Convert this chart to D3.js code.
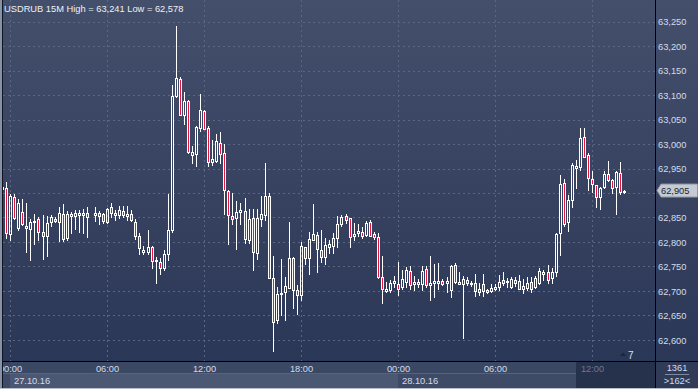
<!DOCTYPE html>
<html>
<head>
<meta charset="utf-8">
<script src="https://cdn.jsdelivr.net/npm/d3@7"></script>
<style>
body { margin: 0; background: #2d3955; }
svg { display: block; }
text { font-family: "Liberation Sans", Arial, sans-serif; }
</style>
</head>
<body>
<svg id="chart" width="698" height="389"></svg>
<script>
const symbol = 'USDRUB';
const period = '15M';
const firstBar = new Date(2016, 9, 26, 23, 30);
const barMinutes = 15;
const barsTotal = '1361';
const barsShift = '>162<';
const shiftMark = '7';

// one entry per 15 minute bar, null = no bar
const open = [
	62.909, 62.911, 62.817, 62.892, 62.829, 62.861, 62.833, 62.827, 62.840, 62.847,
	62.820, 62.813, 62.841, 62.847, 62.840, 62.857, 62.808, 62.853, 62.854, 62.856,
	62.856, 62.859, null, 62.856, 62.859, 62.857, 62.841, 62.872, 62.860, 62.855,
	62.864, 62.854, 62.858, 62.841, 62.813, 62.780, 62.779, 62.789, 62.764, 62.760,
	62.746, 62.775, 62.824, 63.097, 63.132, 63.060, 63.088, 62.978, 62.980, 63.033,
	63.067, 63.032, 62.964, 62.966, 63.003, 62.981, 62.905, 62.854, 62.848, 62.861,
	62.863, 62.804, 62.848, 62.778, 62.846, 62.855, 62.894, 62.726, 62.640, 62.693,
	62.697, 62.707, 62.767, 62.702, 62.692, 62.789, 62.767, 62.805, 62.814, 62.784,
	62.769, 62.790, 62.792, 62.808, 62.837, 62.853, 62.848, 62.812, 62.818, 62.820,
	62.814, 62.841, 62.816, 62.810, 62.729, 62.700, 62.702, 62.716, 62.715, 62.709,
	62.719, 62.740, 62.714, 62.715, 62.715, 62.745, 62.712, 62.717, 62.717, 62.721,
	62.716, 62.701, 62.754, 62.715, 62.714, 62.722, 62.717, 62.717, 62.697, 62.715,
	62.702, 62.700, 62.705, 62.708, 62.723, 62.718, 62.708, 62.723, 62.721, 62.704,
	62.707, 62.719, 62.708, 62.717, 62.735, 62.739, 62.727, 62.738, 62.818, 62.920,
	62.840, 62.885, 62.952, 62.954, 63.014, 62.978, 62.928, 62.917, 62.891, 62.912,
	62.939, 62.927, 62.912, 62.941, 62.902
];
const high = [
	62.918, 62.922, 62.897, 62.897, 62.888, 62.888, 62.880, 62.846, 62.857, 62.851,
	62.856, 62.854, 62.855, 62.850, 62.871, 62.877, 62.863, 62.862, 62.866, 62.866,
	62.868, 62.871, null, 62.871, 62.864, 62.859, 62.869, 62.880, 62.866, 62.874,
	62.874, 62.873, 62.865, 62.847, 62.818, 62.791, 62.824, 62.791, 62.770, 62.767,
	62.784, 62.897, 63.120, 63.241, 63.137, 63.107, 63.090, 62.996, 63.037, 63.102,
	63.069, 63.037, 63.008, 63.020, 63.024, 63.001, 62.907, 62.899, 62.884, 62.880,
	62.889, 62.867, 62.867, 62.867, 62.893, 62.961, 62.901, 62.771, 62.709, 62.766,
	62.729, 62.841, 62.770, 62.713, 62.799, 62.789, 62.820, 62.878, 62.820, 62.824,
	62.809, 62.805, 62.819, 62.853, 62.856, 62.857, 62.848, 62.839, 62.837, 62.831,
	62.843, 62.845, 62.820, 62.818, 62.771, 62.719, 62.723, 62.730, 62.759, 62.742,
	62.749, 62.750, 62.730, 62.724, 62.750, 62.750, 62.772, 62.755, 62.757, 62.724,
	62.728, 62.753, 62.757, 62.739, 62.731, 62.729, 62.720, 62.735, 62.716, 62.735,
	62.704, 62.714, 62.715, 62.733, 62.738, 62.726, 62.728, 62.729, 62.733, 62.724,
	62.728, 62.728, 62.730, 62.747, 62.743, 62.753, 62.747, 62.819, 62.936, 62.928,
	62.896, 62.961, 62.968, 63.032, 63.032, 62.981, 62.944, 62.917, 62.912, 62.944,
	62.965, 62.928, 62.944, 62.963, 62.906
];
const low = [
	62.905, 62.808, 62.805, 62.846, 62.825, 62.834, 62.779, 62.763, 62.796, 62.805,
	62.766, 62.771, 62.832, 62.840, 62.801, 62.801, 62.805, 62.818, 62.827, 62.821,
	62.818, 62.810, null, 62.842, 62.837, 62.839, 62.839, 62.851, 62.844, 62.849,
	62.852, 62.844, 62.842, 62.806, 62.776, 62.776, 62.776, 62.746, 62.717, 62.734,
	62.742, 62.763, 62.820, 63.095, 63.060, 63.040, 62.982, 62.962, 62.956, 63.027,
	63.030, 62.956, 62.958, 62.964, 62.962, 62.858, 62.795, 62.837, 62.786, 62.837,
	62.798, 62.798, 62.743, 62.766, 62.833, 62.844, 62.726, 62.578, 62.634, 62.651,
	62.641, 62.707, 62.666, 62.652, 62.681, 62.756, 62.735, 62.805, 62.739, 62.760,
	62.756, 62.778, 62.777, 62.789, 62.833, 62.839, 62.790, 62.804, 62.812, 62.809,
	62.812, 62.812, 62.806, 62.727, 62.676, 62.697, 62.697, 62.709, 62.692, 62.704,
	62.708, 62.705, 62.702, 62.709, 62.702, 62.708, 62.681, 62.687, 62.704, 62.713,
	62.698, 62.687, 62.716, 62.715, 62.603, 62.713, 62.711, 62.689, 62.691, 62.689,
	62.696, 62.698, 62.701, 62.701, 62.713, 62.709, 62.706, 62.711, 62.704, 62.696,
	62.702, 62.697, 62.706, 62.715, 62.723, 62.717, 62.716, 62.730, 62.774, 62.832,
	62.823, 62.872, 62.910, 62.947, 62.973, 62.906, 62.903, 62.872, 62.867, 62.910,
	62.925, 62.901, 62.858, 62.898, 62.901
];
const close = [
	62.913, 62.818, 62.893, 62.849, 62.880, 62.837, 62.828, 62.841, 62.843, 62.820,
	62.813, 62.839, 62.852, 62.842, 62.859, 62.807, 62.857, 62.857, 62.859, 62.860,
	62.860, 62.850, null, 62.859, 62.854, 62.842, 62.868, 62.859, 62.855, 62.865,
	62.856, 62.858, 62.844, 62.812, 62.787, 62.784, 62.790, 62.761, 62.761, 62.747,
	62.776, 62.824, 63.098, 63.134, 63.060, 63.088, 62.983, 62.983, 63.035, 63.069,
	63.030, 62.964, 62.969, 63.006, 62.979, 62.907, 62.855, 62.846, 62.861, 62.865,
	62.807, 62.847, 62.780, 62.848, 62.857, 62.894, 62.726, 62.637, 62.694, 62.696,
	62.710, 62.767, 62.702, 62.691, 62.792, 62.768, 62.807, 62.816, 62.785, 62.769,
	62.793, 62.796, 62.808, 62.837, 62.852, 62.845, 62.811, 62.816, 62.822, 62.812,
	62.839, 62.812, 62.811, 62.729, 62.703, 62.704, 62.717, 62.720, 62.704, 62.725,
	62.743, 62.712, 62.719, 62.719, 62.740, 62.712, 62.717, 62.720, 62.720, 62.715,
	62.721, 62.751, 62.719, 62.719, 62.725, 62.716, 62.714, 62.699, 62.704, 62.699,
	62.698, 62.706, 62.709, 62.719, 62.717, 62.721, 62.724, 62.717, 62.705, 62.711,
	62.717, 62.705, 62.727, 62.740, 62.738, 62.722, 62.739, 62.817, 62.919, 62.837,
	62.885, 62.957, 62.955, 63.012, 62.974, 62.930, 62.918, 62.891, 62.910, 62.939,
	62.927, 62.910, 62.942, 62.903, 62.905
];

const priceTicks = [62.60, 62.65, 62.70, 62.75, 62.80, 62.85, 62.90, 62.95, 63.00, 63.05, 63.10, 63.15, 63.20, 63.25];

const W = 698;
const H = 389;
const plotL = 3;
const plotR = 655;
const plotB = 361;
const barStep = 4.04;
const bullColor = 'none';
const bearColor = '#e3173e';
const labelColor = '#d3dcec';

const svg = d3.select('#chart');
const defs = svg.append('defs');

const grad = defs.append('linearGradient')
	.attr('id', 'bg')
	.attr('gradientUnits', 'userSpaceOnUse')
	.attr('x1', 0).attr('y1', 0).attr('x2', 0).attr('y2', plotB);
grad.append('stop').attr('offset', 0).attr('stop-color', '#434f6b');
grad.append('stop').attr('offset', 1).attr('stop-color', '#2b3756');

defs.append('clipPath').attr('id', 'plotClip')
	.append('rect').attr('x', plotL).attr('y', 0).attr('width', plotR - plotL).attr('height', plotB);
// local coords of the time axis group (it is translated down to plotB)
defs.append('clipPath').attr('id', 'axisClip')
	.append('rect').attr('x', plotL).attr('y', 0).attr('width', plotR - plotL).attr('height', H - plotB);

const bars = open.map((o, i) => ({
	t: d3.timeMinute.offset(firstBar, i * barMinutes),
	o, h: high[i], l: low[i], c: close[i]
})).filter(d => d.o !== null);

const ru = d3.formatLocale({ decimal: ',', thousands: ' ', grouping: [3], currency: ['', ''] });
const fmt = ru.format('.3f');

const x = d3.scaleTime()
	.domain([firstBar, d3.timeMinute.offset(firstBar, (open.length - 1) * barMinutes)])
	.range([2.6, 2.6 + (open.length - 1) * barStep]);
const y = d3.scaleLinear().domain([62.6, 63.25]).range([339.95, 21.55]);

const last = bars[bars.length - 1].c;

// backgrounds
svg.append('rect').attr('width', W).attr('height', H).attr('fill', '#3a4763');
svg.append('rect').attr('x', 0).attr('y', 0).attr('width', W).attr('height', plotB).attr('fill', 'url(#bg)');

// bottom rows
const days = d3.timeDay.range(d3.timeDay.ceil(firstBar), x.domain()[1]);
svg.append('rect').attr('x', 0).attr('y', plotB).attr('width', plotR).attr('height', 13).attr('fill', '#3b4864');
svg.append('rect').attr('x', 0).attr('y', 374).attr('width', plotR).attr('height', 14).attr('fill', '#3e4b67');
svg.append('g').selectAll('rect').data(days.slice(0, 1)).join('rect')
	.attr('x', d => Math.floor(x(d)))
	.attr('y', 374)
	.attr('width', d => Math.floor(x(d3.timeDay.offset(d, 1))) - Math.floor(x(d)))
	.attr('height', 14)
	.attr('fill', '#4b5874');
svg.append('line').attr('x1', 0).attr('x2', plotR).attr('y1', 373.5).attr('y2', 373.5).attr('stroke', '#56637e');
svg.append('rect').attr('x', 576).attr('y', plotB + 1).attr('width', plotR - 576).attr('height', 26).attr('fill', '#26314b');
svg.append('rect').attr('x', plotR + 1).attr('y', plotB + 1).attr('width', W - plotR - 1).attr('height', 26).attr('fill', '#2f3b57');

// grid
const grid = svg.append('g').attr('clip-path', 'url(#plotClip)');
grid.selectAll('line.h').data(priceTicks).join('line')
	.attr('class', 'h')
	.attr('x1', plotL).attr('x2', plotR)
	.attr('y1', d => Math.round(y(d)) + 0.5)
	.attr('y2', d => Math.round(y(d)) + 0.5)
	.attr('stroke', '#5a6782')
	.attr('stroke-dasharray', '2,3');
const hourTicks = x.ticks(d3.timeHour.every(6));
grid.selectAll('line.v').data(hourTicks).join('line')
	.attr('class', 'v')
	.attr('x1', d => Math.floor(x(d)) + 0.5)
	.attr('x2', d => Math.floor(x(d)) + 0.5)
	.attr('y1', 0).attr('y2', plotB)
	.attr('stroke', '#5a6782')
	.attr('stroke-dasharray', '2,3');

// candles
const candles = svg.append('g').attr('clip-path', 'url(#plotClip)');
const cg = candles.selectAll('g').data(bars).join('g');
cg.each(function(d) {
	const g = d3.select(this);
	const cx = Math.floor(x(d.t));
	const top = Math.round(y(Math.max(d.o, d.c)));
	const bot = Math.round(y(Math.min(d.o, d.c)));
	const bh = Math.max(1, bot - top);
	const hy = Math.round(y(d.h));
	const ly = Math.round(y(d.l));
	if (hy < top) {
		g.append('line').attr('x1', cx + 0.5).attr('x2', cx + 0.5)
			.attr('y1', hy).attr('y2', top).attr('stroke', '#fff');
	}
	if (ly > top + bh) {
		g.append('line').attr('x1', cx + 0.5).attr('x2', cx + 0.5)
			.attr('y1', top + bh + 1).attr('y2', ly + 1).attr('stroke', '#fff');
	}
	g.append('rect')
		.attr('x', cx - 0.5).attr('y', top + 0.5)
		.attr('width', 2).attr('height', bh)
		.attr('fill', d.c < d.o ? bearColor : bullColor)
		.attr('stroke', '#fff');
});

// time axis
const xAxis = d3.axisBottom(x)
	.ticks(d3.timeHour.every(6))
	.tickFormat(d3.timeFormat('%H:%M'))
	.tickSize(0);
const gx = svg.append('g')
	.attr('transform', `translate(0,${plotB})`)
	.attr('clip-path', 'url(#axisClip)')
	.call(xAxis);
gx.select('.domain').remove();
gx.selectAll('.tick').attr('transform', d => `translate(${Math.floor(x(d)) + 0.5},0)`);
gx.selectAll('.tick text')
	.attr('y', 11).attr('dy', null)
	.attr('font-size', 9.3)
	.attr('font-family', '"Liberation Sans", Arial, sans-serif')
	.attr('fill', d => x(d) > 576 ? '#6c7892' : labelColor);

const dAxis = d3.axisBottom(x)
	.ticks(d3.timeDay.every(1))
	.tickFormat(d3.timeFormat('%d.%m.%y'))
	.tickSize(0);
const gd = svg.append('g')
	.attr('transform', `translate(0,${plotB})`)
	.call(dAxis);
gd.select('.domain').remove();
gd.selectAll('.tick').attr('transform', d => `translate(${Math.floor(x(d)) + 4},0)`);
gd.selectAll('.tick text')
	.attr('y', 23).attr('dy', null)
	.attr('text-anchor', 'start')
	.attr('font-size', 9.3)
	.attr('font-family', '"Liberation Sans", Arial, sans-serif')
	.attr('fill', labelColor);

// price axis, the label under the last price tag is hidden like in the terminal
const yAxis = d3.axisRight(y)
	.tickValues(priceTicks.filter(v => Math.abs(y(v) - y(last)) > 8))
	.tickFormat(fmt).tickSize(0).tickPadding(3);
const gy = svg.append('g').attr('transform', `translate(${plotR},0)`).call(yAxis);
gy.select('.domain').remove();
gy.selectAll('.tick text')
	.attr('dy', '0.35em')
	.attr('font-size', 9.3)
	.attr('font-family', '"Liberation Sans", Arial, sans-serif')
	.attr('fill', labelColor);

// frame lines
svg.append('line').attr('x1', plotR + 0.5).attr('x2', plotR + 0.5).attr('y1', 0).attr('y2', 388).attr('stroke', '#000');
svg.append('line').attr('x1', 2).attr('x2', W).attr('y1', plotB + 0.5).attr('y2', plotB + 0.5).attr('stroke', '#000');
svg.append('rect').attr('x', 0).attr('y', 0).attr('width', 2).attr('height', H).attr('fill', '#8792a6');
svg.append('line').attr('x1', 2.5).attr('x2', 2.5).attr('y1', 0).attr('y2', 388).attr('stroke', '#101522');
svg.append('rect').attr('x', 0).attr('y', 388).attr('width', W).attr('height', 1).attr('fill', '#b8bfcb');

// last price tag
const ty = y(last);
svg.append('path')
	.attr('d', `M657,${ty} L661,${ty - 6.5} L697.5,${ty - 6.5} L697.5,${ty + 6.5} L661,${ty + 6.5} Z`)
	.attr('fill', '#c6cad2')
	.attr('stroke', '#8d95a5');
svg.append('text')
	.attr('x', 661).attr('y', ty + 3.5)
	.attr('font-size', 9.3)
	.attr('fill', '#1c2436')
	.text(fmt(last));

// bars counter box
svg.append('text').attr('x', 677).attr('y', 371).attr('text-anchor', 'middle')
	.attr('font-size', 9.3).attr('fill', labelColor).text(barsTotal);
svg.append('line').attr('x1', 665).attr('x2', 689).attr('y1', 374.5).attr('y2', 374.5).attr('stroke', '#7d899e');
svg.append('text').attr('x', 677).attr('y', 384).attr('text-anchor', 'middle')
	.attr('font-size', 9.3).attr('fill', labelColor).text(barsShift);

// shift marker
svg.append('path').attr('d', 'M620,356 L623,352.5 L626,356 Z').attr('fill', '#1e2536');
svg.append('text').attr('x', 628).attr('y', 359)
	.attr('font-size', 10).attr('fill', '#d3e0f2').text(shiftMark);

// title
svg.append('text')
	.attr('x', 4).attr('y', 12)
	.attr('font-size', 9.3)
	.attr('fill', '#eef1f6')
	.text(`${symbol} ${period} High = ${fmt(d3.max(bars, d => d.h))} Low = ${fmt(d3.min(bars, d => d.l))}`);
</script>
</body>
</html>
